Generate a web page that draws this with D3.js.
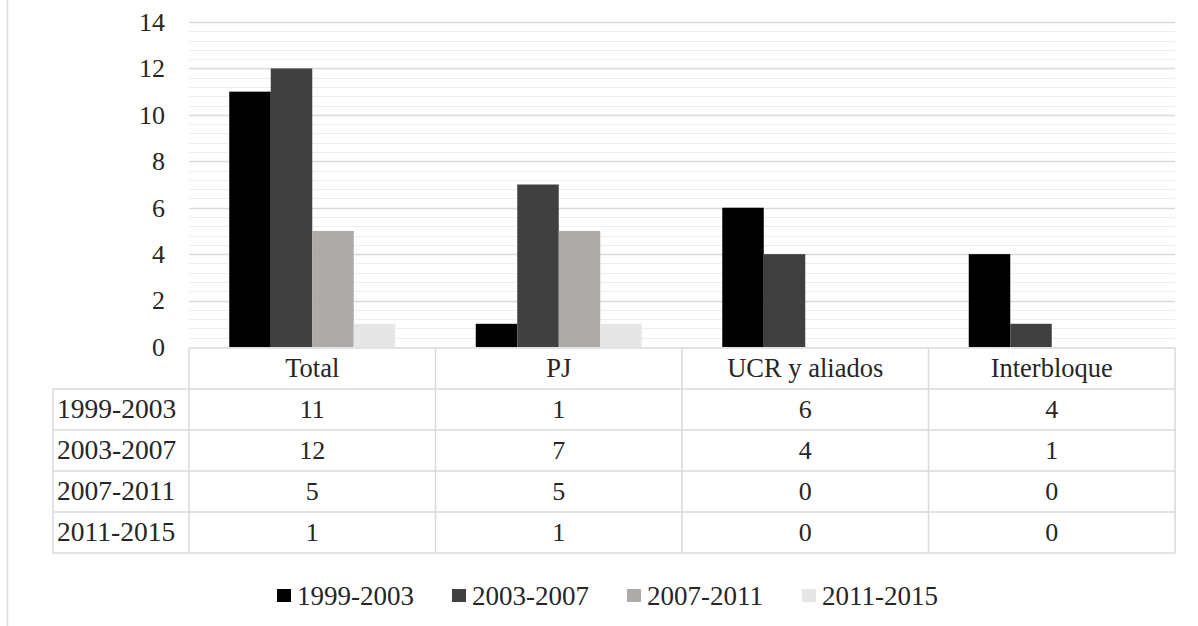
<!DOCTYPE html>
<html>
<head>
<meta charset="utf-8">
<script src="https://cdn.jsdelivr.net/npm/d3@7"></script>
<style>
  html, body { margin: 0; padding: 0; background: #fff; }
  svg { display: block; }
  text { font-family: "Liberation Serif", "Times New Roman", serif; fill: #262626; }
</style>
</head>
<body>
<svg id="chart" width="1198" height="626"></svg>
<script>
const categories = ["Total", "PJ", "UCR y aliados", "Interbloque"];
const seriesNames = ["1999-2003", "2003-2007", "2007-2011", "2011-2015"];
const values1999_2003 = [11, 1, 6, 4];
const values2003_2007 = [12, 7, 4, 1];
const values2007_2011 = [5, 5, 0, 0];
const values2011_2015 = [1, 1, 0, 0];
const yTickValues = [0, 2, 4, 6, 8, 10, 12, 14];
const seriesColors = ["#000000", "#404040", "#aeaaaa", "#e7e6e6"];

const seriesValues = [values1999_2003, values2003_2007, values2007_2011, values2011_2015];

const svg = d3.select("#chart");

// outer chart border (left edge visible)
svg.append("line").attr("x1", 7.5).attr("x2", 7.5).attr("y1", 0).attr("y2", 626)
  .attr("stroke", "#d9d9d9").attr("stroke-width", 1.5);

const plotLeft = 189, plotRight = 1175, plotTop = 22, plotBottom = 347;

const x = d3.scaleBand().domain(categories).range([plotLeft, plotRight]).padding(0);
const xs = d3.scaleBand().domain(seriesNames).range([0, x.bandwidth()]).paddingInner(0).paddingOuter(0.97);
const y = d3.scaleLinear().domain([0, 14]).range([plotBottom, plotTop]);

// minor gridlines
const minor = d3.range(0, 14.001, 0.4).filter(v => Math.abs(v / 2 - Math.round(v / 2)) > 0.01);
svg.append("g").selectAll("line").data(minor).join("line")
  .attr("x1", plotLeft).attr("x2", plotRight)
  .attr("y1", d => Math.round(y(d)) + 0.5).attr("y2", d => Math.round(y(d)) + 0.5)
  .attr("stroke", "#ededed").attr("stroke-width", 1);

// major gridlines
svg.append("g").selectAll("line").data(yTickValues.filter(v => v > 0)).join("line")
  .attr("x1", plotLeft).attr("x2", plotRight)
  .attr("y1", d => Math.round(y(d)) + 0.5).attr("y2", d => Math.round(y(d)) + 0.5)
  .attr("stroke", "#d9d9d9").attr("stroke-width", 1.5);

// y axis labels
const yAxis = d3.axisLeft(y).tickValues(yTickValues).tickSize(0).tickPadding(0).tickFormat(d3.format("d"));
const yg = svg.append("g").attr("transform", `translate(165,0)`).call(yAxis);
yg.select(".domain").remove();
yg.selectAll("text").attr("font-size", 26).attr("fill", "#262626")
  .style("font-family", '"Liberation Serif", serif');

// bars
const barData = [];
seriesNames.forEach((s, i) => {
  categories.forEach((c, j) => barData.push({ s, c, v: seriesValues[i][j], i }));
});
svg.append("g").selectAll("rect").data(barData).join("rect")
  .attr("x", d => x(d.c) + xs(d.s))
  .attr("width", xs.bandwidth())
  .attr("y", d => y(d.v))
  .attr("height", d => y(0) - y(d.v))
  .attr("fill", d => seriesColors[d.i]);

// data table
const tableTop = 348, rowH = 41, labelLeft = 53;
const tg = svg.append("g");
const gridColor = "#d9d9d9";
tg.append("line").attr("x1", plotLeft).attr("x2", plotRight).attr("y1", tableTop).attr("y2", tableTop)
  .attr("stroke", gridColor).attr("stroke-width", 1.5);
d3.range(1, seriesNames.length + 2).forEach(k => {
  const yy = tableTop + k * rowH;
  tg.append("line").attr("x1", labelLeft).attr("x2", plotRight).attr("y1", yy).attr("y2", yy)
    .attr("stroke", gridColor).attr("stroke-width", 1.5);
});
const tableBottom = tableTop + (seriesNames.length + 1) * rowH;
tg.append("line").attr("x1", labelLeft).attr("x2", labelLeft).attr("y1", tableTop + rowH).attr("y2", tableBottom)
  .attr("stroke", gridColor).attr("stroke-width", 1.5);
categories.forEach(c => {
  tg.append("line").attr("x1", x(c)).attr("x2", x(c)).attr("y1", tableTop).attr("y2", tableBottom)
    .attr("stroke", gridColor).attr("stroke-width", 1.5);
});
tg.append("line").attr("x1", plotRight).attr("x2", plotRight).attr("y1", tableTop).attr("y2", tableBottom)
  .attr("stroke", gridColor).attr("stroke-width", 1.5);

// header
tg.selectAll("text.hdr").data(categories).join("text").attr("class", "hdr")
  .attr("x", d => x(d) + x.bandwidth() / 2)
  .attr("y", tableTop + rowH / 2 + 8)
  .attr("text-anchor", "middle").attr("font-size", 26.5).text(d => d);

// row labels and values
seriesNames.forEach((s, i) => {
  const cy = tableTop + (i + 1) * rowH + rowH / 2 + 8;
  tg.append("text").attr("x", labelLeft + 4).attr("y", cy).attr("font-size", 27.5).text(s);
  categories.forEach((c, j) => {
    tg.append("text").attr("x", x(c) + x.bandwidth() / 2).attr("y", cy)
      .attr("text-anchor", "middle").attr("font-size", 26).text(seriesValues[i][j]);
  });
});

// legend
const legendX = d3.scalePoint().domain(seriesNames).range([277, 802]);
const lg = svg.append("g").selectAll("g").data(seriesNames).join("g")
  .attr("transform", d => `translate(${legendX(d)},589)`);
lg.append("rect").attr("width", 14).attr("height", 13).attr("fill", (d, i) => seriesColors[i]);
lg.append("text").attr("x", 20).attr("y", 15.5).attr("font-size", 27).text(d => d);
</script>
</body>
</html>
